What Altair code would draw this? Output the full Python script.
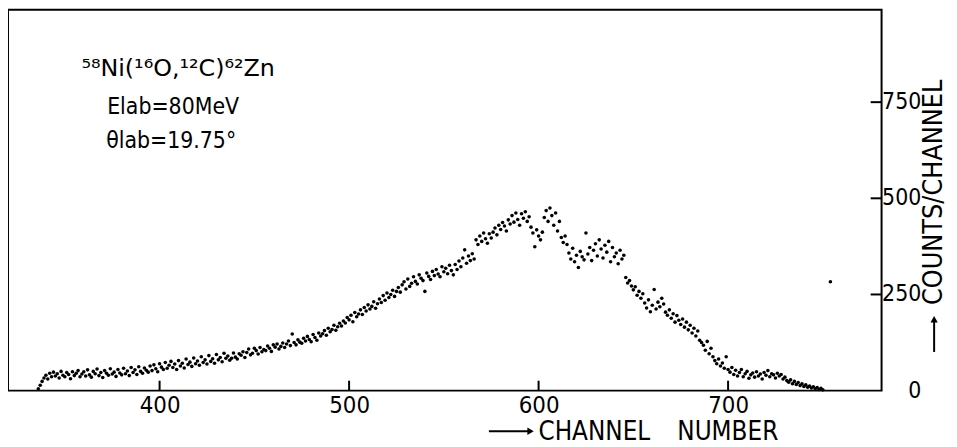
import altair as alt
import pandas as pd

# ---- data ----
start_channel = 336
counts = [
    5, 14, 24, 33, 40, 30, 45, 36, 48, 38,
    44, 33, 50, 40, 36, 47, 42, 31, 49, 39,
    45, 52, 36, 43, 49, 38, 54, 41, 35, 50,
    44, 56, 39, 47, 34, 52, 45, 40, 57, 43,
    48, 37, 55, 46, 41, 58, 44, 51, 39, 60,
    47, 54, 42, 62, 50, 45, 59, 53, 48, 64,
    52, 67, 57, 49, 70, 61, 55, 73, 58, 66,
    76, 60, 69, 55, 78, 64, 71, 59, 82, 68,
    74, 63, 85, 70, 77, 66, 88, 73, 80, 69,
    91, 76, 83, 71, 94, 80, 86, 75, 97, 84,
    90, 79, 84, 98, 87, 82, 96, 92, 101, 86,
    99, 108, 93, 97, 110, 104, 95, 112, 101, 107,
    104, 116, 110, 102, 119, 113, 121, 108, 115, 124,
    112, 121, 129, 117, 147, 125, 119, 132, 126, 123,
    136, 129, 141, 133, 127, 146, 138, 131, 150, 142,
    148, 156, 144, 162, 153, 159, 170, 157, 166, 175,
    168, 181, 176, 190, 184, 196, 179, 203, 192, 199,
    210, 198, 216, 207, 223, 212, 219, 231, 214, 226,
    238, 229, 247, 235, 254, 242, 250, 261, 245, 258,
    268, 256, 275, 283, 264, 290, 271, 279, 296, 284,
    277, 301, 292, 286, 258, 306, 297, 289, 310, 299,
    315, 303, 296, 322, 309, 318, 304, 326, 312, 301,
    328, 315, 337, 322, 345, 366, 331, 350, 338, 356,
    342, 392, 380, 402, 388, 410, 395, 383, 408, 397,
    412, 423, 405, 430, 419, 437, 428, 415, 444, 433,
    455, 438, 462, 445, 430, 460, 448, 465, 440, 452,
    425, 410, 374, 418, 402, 392, 412, 450, 468, 440,
    475, 455, 430, 462, 415, 440, 398, 385, 402, 380,
    358, 342, 370, 335, 352, 320, 362, 348, 340, 410,
    355, 372, 338, 365, 382, 350, 392, 368, 345, 378,
    360, 388, 335, 372, 348, 358, 330, 365, 342, 352,
    294, 280, 286, 272, 262, 270, 248, 258, 240, 252,
    228, 215, 236, 205, 222, 263, 212, 230, 218, 240,
    225, 204, 196, 210, 188, 200, 178, 195, 183, 172,
    186, 165, 178, 158, 170, 150, 162, 142, 155, 131,
    125, 118, 105, 128, 96, 110, 88, 78, 70, 82,
    64, 72, 58, 88, 55, 48, 60, 42, 53, 38,
    47, 55, 36, 44, 50, 32, 41, 46, 35, 49,
    38, 43, 30, 47, 40, 52, 36, 44, 41, 33,
    45, 38, 42, 30, 35, 26, 22, 28, 18, 24,
    16, 21, 13, 18, 11, 15, 9, 12, 7, 10,
    5, 8, 3, 6, 2,
]
channels = list(range(start_channel, start_channel + len(counts)))

stray_channel = [754]
stray_counts = [283]

x_tick_values = [400, 500, 600, 700]
y_tick_values = [250, 500, 750]
y_label_values = [0, 250, 500, 750]

title_lines = ["⁵⁸Ni(¹⁶O,¹²C)⁶²Zn", "Elab=80MeV", "θlab=19.75°"]
x_title_parts = ["CHANNEL", "NUMBER"]
y_title_text = "COUNTS/CHANNEL"

# ---- layout / style ----
W, H = 881, 384
X_DOMAIN = [320, 781]
Y_DOMAIN = [0, 990]
FONT = "DejaVu Sans Condensed, Liberation Sans Narrow, DejaVu Sans, sans-serif"
FONT_WIDE = "DejaVu Sans, sans-serif"

df = pd.DataFrame({"channel": channels + stray_channel,
                   "counts": counts + stray_counts})

xs = alt.Scale(domain=X_DOMAIN, nice=False, zero=False)
ys = alt.Scale(domain=Y_DOMAIN, nice=False, zero=False)

points = alt.Chart(df).mark_circle(size=13, color="black", opacity=1).encode(
    x=alt.X("channel:Q", scale=xs, title=None,
            axis=alt.Axis(values=x_tick_values, title=None, ticks=False, tickSize=0,
                          domain=False, grid=False, labelFont=FONT, labelFontSize=24,
                          labelPadding=3, labelColor="black", labelOverlap=False)),
    y=alt.Y("counts:Q", scale=ys, title=None, axis=None),
)

xt = alt.Chart(pd.DataFrame({"channel": x_tick_values})).mark_rule(
    color="black", strokeWidth=2).encode(
    x=alt.X("channel:Q", scale=xs, title=None),
    y=alt.value(H - 10), y2=alt.value(H))

yt = alt.Chart(pd.DataFrame({"counts": y_tick_values})).mark_rule(
    color="black", strokeWidth=2).encode(
    y=alt.Y("counts:Q", scale=ys, title=None),
    x=alt.value(W - 11), x2=alt.value(W))

# right-hand value labels (drawn from the tick values through the y scale)
ylab = alt.Chart(pd.DataFrame({"counts": y_label_values})).mark_text(
    font=FONT, fontSize=23, align="right", baseline="middle", color="black").encode(
    y=alt.Y("counts:Q", scale=ys, title=None),
    x=alt.value(W + 40),
    text=alt.Text("counts:Q"))


def label(txt, x, y, size, align="left", angle=0, font=FONT):
    return alt.Chart(pd.DataFrame({"a": [0]})).mark_text(
        text=txt, font=font, fontSize=size, align=align, baseline="middle",
        angle=angle, color="black").encode(x=alt.value(x), y=alt.value(y))


texts = [
    label(title_lines[0], 74, 60, 24, font=FONT_WIDE),
    label(title_lines[1], 100, 98, 23),
    label(title_lines[2], 99, 132, 23),
    label(x_title_parts[0], 535, 426, 26),
    label(x_title_parts[1], 675, 426, 26),
    label(y_title_text, 934, 184, 27, align="center", angle=270),
]

# arrows drawn as a shaft plus a head
x_arrow_shaft = alt.Chart(pd.DataFrame({"a": [0]})).mark_rule(
    color="black", strokeWidth=2).encode(
    x=alt.value(485), x2=alt.value(526), y=alt.value(425))
x_arrow_head = alt.Chart(pd.DataFrame({"a": [0]})).mark_point(
    shape="triangle-right", filled=True, size=55, color="black", opacity=1).encode(
    x=alt.value(527), y=alt.value(425))
y_arrow_shaft = alt.Chart(pd.DataFrame({"a": [0]})).mark_rule(
    color="black", strokeWidth=2).encode(
    x=alt.value(934), y=alt.value(313), y2=alt.value(345))
y_arrow_head = alt.Chart(pd.DataFrame({"a": [0]})).mark_point(
    shape="triangle-up", filled=True, size=55, color="black", opacity=1).encode(
    x=alt.value(934), y=alt.value(312))

chart = alt.layer(points, xt, yt, ylab, *texts,
                  x_arrow_shaft, x_arrow_head, y_arrow_shaft, y_arrow_head).properties(
    width=W, height=H,
    padding={"left": 0, "top": 0, "right": 68, "bottom": 56},
    autosize=alt.AutoSizeParams(type="none"),
).configure_view(stroke="black", strokeWidth=2)

chart.save("out.html", embed_options={"renderer": "svg", "actions": False})
